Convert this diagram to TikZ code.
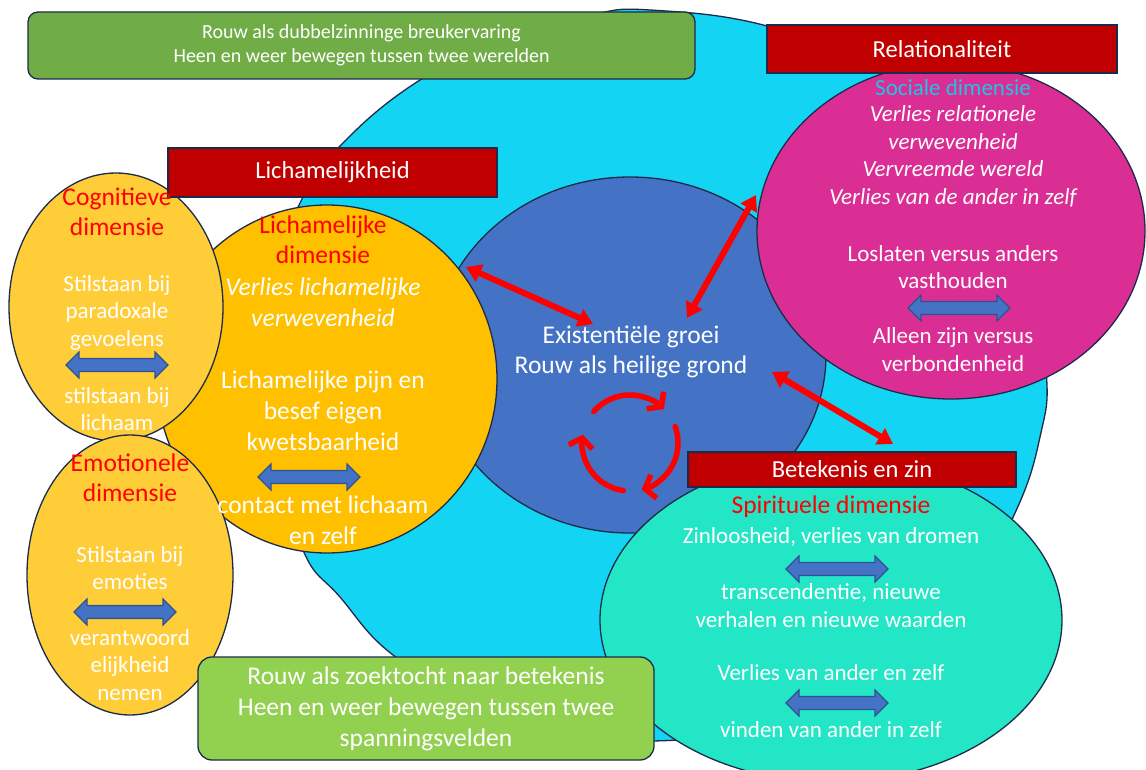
\documentclass[tikz,border=0pt]{standalone}
\usepackage{fontspec}
\setmainfont{Carlito}
\usetikzlibrary{arrows.meta,shapes.geometric,calc}
\definecolor{cyanbg}{HTML}{14D4F4}
\definecolor{dblue}{HTML}{4472C4}
\definecolor{yel}{HTML}{FFC000}
\definecolor{lyel}{HTML}{FFCD38}
\definecolor{mag}{HTML}{DB2E95}
\definecolor{tealc}{HTML}{23E6C7}
\definecolor{gtop}{HTML}{70AD47}
\definecolor{gbot}{HTML}{92D050}
\definecolor{boxred}{HTML}{C00000}
\definecolor{txtred}{HTML}{FF0000}
\definecolor{soccyan}{HTML}{1FC3E3}
\definecolor{navy}{HTML}{1C2B4A}
\definecolor{barrowline}{HTML}{2F528F}
\newcommand\fsz[2]{\fontsize{#1}{#2}\selectfont}
\tikzset{
  outl/.style={draw=navy, line width=1.3pt},
  blob/.style={outl, ellipse, inner sep=0pt},
  redbox/.style={outl, fill=boxred, inner sep=0pt, text=white, font=\fsz{24.5}{29}},
  greenbox/.style={outl, rounded corners=12pt, inner sep=0pt, text=white, align=center},
  wtxt/.style={text=white, align=center, inner sep=0pt},
  rtxt/.style={text=txtred, align=center, inner sep=0pt, font=\fsz{25.5}{30}},
  redlink/.style={draw=txtred, line width=6pt, {Triangle[length=15pt,width=18pt]}-{Triangle[length=15pt,width=18pt]}},
  cyc/.style={draw=txtred, line width=5.5pt, line cap=round, -{Straight Barb[length=9pt,width=24pt]}},
  dbl/.pic={\draw[draw=barrowline, fill=dblue, line width=1.2pt, line join=miter]
    (-51,0) -- (-38,-13) -- (-38,-6.5) -- (38,-6.5) -- (38,-13) -- (51,0) -- (38,13) -- (38,6.5) -- (-38,6.5) -- (-38,13) -- cycle;}
}
\begin{document}
\begin{tikzpicture}[x=1pt,y=-1pt]
\useasboundingbox (0,0) rectangle (1146,770);
\clip (0,0) rectangle (1146,770);
\fill[white] (0,0) rectangle (1146,770);
% big background shape
\draw[outl, fill=cyanbg] plot[smooth cycle, tension=0.7] coordinates {
 (650,10) (767,26) (880,72) (970,160) (1025,260) (1046,370) (1040,437) (1015,513)
 (965,600) (890,672) (790,725) (680,740) (580,735) (480,705) (393,655) (340,597)
 (303,550) (278,450) (275,350) (285,260) (300,203) (343,143) (420,80) (510,36) (590,15)};
% top green box
\node[greenbox, fill=gtop, minimum width=667pt, minimum height=67pt, rounded corners=10pt, font=\fsz{20}{24}] (topbox) at (361.5,45.5)
  {Rouw als dubbelzinninge breukervaring\\Heen en weer bewegen tussen twee werelden};
% shapes
\node[blob, fill=dblue, minimum width=392pt, minimum height=356pt] (core) at (630,355) {};
\node[blob, fill=yel, minimum width=340pt, minimum height=348pt] (lich) at (327,379) {};
\node[blob, fill=lyel, minimum width=214pt, minimum height=268pt] (cog) at (116,307) {};
\node[blob, fill=lyel, minimum width=206pt, minimum height=280pt] (emo) at (130,575) {};
\node[redbox, minimum width=329pt, minimum height=49pt] (lichbox) at (332.5,172.5) {Lichamelijkheid};
\node[blob, fill=mag, minimum width=388pt, minimum height=336pt] (soc) at (951,231) {};
\node[redbox, minimum width=350pt, minimum height=48pt] (relbox) at (942,49) {Relationaliteit};
\node[blob, fill=tealc, minimum width=462pt, minimum height=324pt] (spi) at (831,620) {};
\node[redbox, minimum width=328pt, minimum height=35pt] (betbox) at (852,469.5) {Betekenis en zin};
\node[greenbox, fill=gbot, minimum width=456pt, minimum height=103pt, rounded corners=14pt, font=\fsz{25.5}{31}] (botbox) at (426,708.5)
  {Rouw als zoektocht naar betekenis\\Heen en weer bewegen tussen twee\\spanningsvelden};
% red links
\coordinate (r1a) at (466,267); \coordinate (r1b) at (593,324);
\coordinate (r2a) at (756,195); \coordinate (r2b) at (687,318);
\coordinate (r3a) at (772,372); \coordinate (r3b) at (893,444);
\draw[redlink] (r1a) -- (r1b);
\draw[redlink] (r2a) -- (r2b);
\draw[redlink] (r3a) -- (r3b);
% cycle arrows
\coordinate (cc) at (630,443);
\draw[cyc] ([shift={(139:48pt)}]cc) arc[start angle=139, end angle=45, radius=48pt];
\draw[cyc] ([shift={(20:48pt)}]cc) arc[start angle=20, end angle=-76, radius=48pt];
\draw[cyc] ([shift={(-98:48pt)}]cc) arc[start angle=-98, end angle=-190, radius=48pt];
% cognitive
\node[rtxt] (cogt) at (117,212) {Cognitieve\\dimensie};
\node[wtxt, font=\fsz{23}{27.5}] (cog1) at (117,312.5) {Stilstaan bij\\paradoxale\\gevoelens};
\pic at (117,365) {dbl};
\node[wtxt, font=\fsz{23}{27.5}] (cog2) at (117,409) {stilstaan bij\\lichaam};
% lichamelijke
\node[rtxt] (licht) at (323,240) {Lichamelijke\\dimensie};
\node[wtxt, font=\fsz{25.5}{30.5}\itshape] (lich1) at (323,302) {Verlies lichamelijke\\verwevenheid};
\node[wtxt, font=\fsz{25.5}{31}] (lich2) at (323,411) {Lichamelijke pijn en\\besef eigen\\kwetsbaarheid};
\pic at (309,477) {dbl};
\node[wtxt, font=\fsz{25.5}{31}] (lich3) at (323,520) {contact met lichaam\\en zelf};
% emotional
\node[rtxt] (emot) at (130,478) {Emotionele\\dimensie};
\node[wtxt, font=\fsz{23}{27.5}] (emo1) at (130,568) {Stilstaan bij\\emoties};
\pic at (125,612) {dbl};
\node[wtxt, font=\fsz{23}{27.5}] (emo2) at (130,665) {verantwoord\\elijkheid\\nemen};
% core
\node[wtxt, font=\fsz{25.5}{30}] (coret) at (631,352) {Existentiële groei\\Rouw als heilige grond};
% social
\node[text=soccyan, inner sep=0pt, font=\fsz{23}{27.5}] (soct) at (953,88) {Sociale dimensie};
\node[wtxt, font=\fsz{23}{27.5}\itshape] (soc1) at (953,156.5) {Verlies relationele\\verwevenheid\\Vervreemde wereld\\Verlies van de ander in zelf};
\node[wtxt, font=\fsz{23}{27.5}] (soc2) at (953,267) {Loslaten versus anders\\vasthouden};
\pic at (959,308) {dbl};
\node[wtxt, font=\fsz{23}{27.5}] (soc3) at (953,349.5) {Alleen zijn versus\\verbondenheid};
% spiritual
\node[rtxt] (spit) at (831,507) {Spirituele dimensie};
\node[wtxt, font=\fsz{23}{27.5}] (spi1) at (831,537) {Zinloosheid, verlies van dromen};
\pic at (837,569) {dbl};
\node[wtxt, font=\fsz{23}{27.5}] (spi2) at (831,605.5) {transcendentie, nieuwe\\verhalen en nieuwe waarden};
\node[wtxt, font=\fsz{23}{27.5}] (spi3) at (831,673) {Verlies van ander en zelf};
\pic at (837,703) {dbl};
\node[wtxt, font=\fsz{23}{27.5}] (spi4) at (831,730) {vinden van ander in zelf};
\end{tikzpicture}
\end{document}
